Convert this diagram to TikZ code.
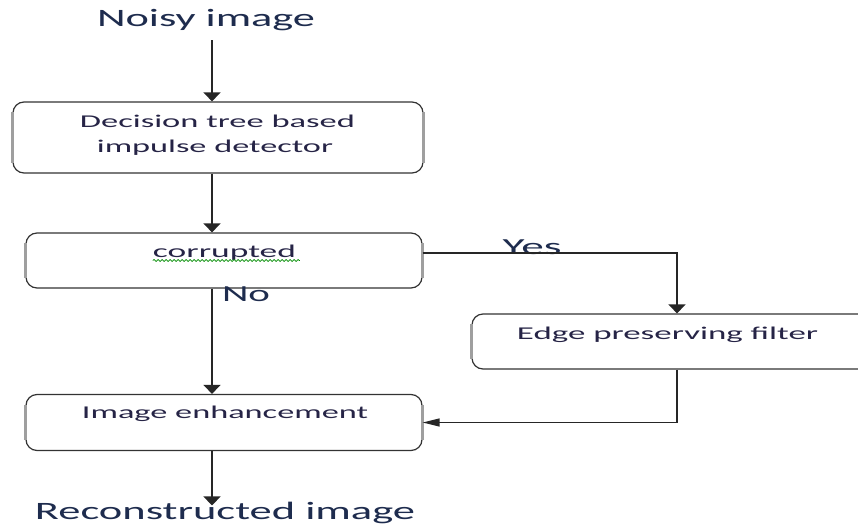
\documentclass[tikz,border=0pt]{standalone}
\usepackage{fontspec}
\setmainfont{Carlito}
\usepackage{graphicx}
\usetikzlibrary{arrows.meta,decorations.pathmorphing}
\definecolor{txtc}{RGB}{38,36,70}
\definecolor{ttlc}{RGB}{30,44,78}
\newcommand\wtext[3]{\resizebox{#1}{\height}{\fontsize{#2}{#2}\selectfont #3}}
\begin{document}
\begin{tikzpicture}[x=1pt,y=-1pt,
  box/.style={draw=black!80,line width=1.2pt,rounded corners=11pt,inner sep=0pt},
  side/.style={draw=gray!75,line width=2.6pt},
  lbl/.style={anchor=base,inner xsep=0pt,inner ysep=0pt,text=txtc},
  ttl/.style={anchor=base,inner xsep=0pt,inner ysep=0pt,text=ttlc},
  conn/.style={draw=black!85,line width=1.3pt},
  varr/.style={conn,-{Triangle[width=17pt,length=9pt]}},
  harr/.style={conn,-{Triangle[width=8pt,length=17pt]}}]
\clip (0,0) rectangle (858,524);
\fill[white] (0,0) rectangle (858,524);
\coordinate (vx) at (212,0);
\coordinate (hx) at (677,0);
\coordinate (yy) at (0,253);
% boxes
\node[box,minimum width=410pt,minimum height=71pt] (b1) at (218,137.5) {};
\node[box,minimum width=396pt,minimum height=55pt] (b2) at (224,260.5) {};
\node[box,minimum width=410pt,minimum height=55pt] (b3) at (677,341.5) {};
\node[box,minimum width=396pt,minimum height=56pt] (b4) at (224,422.5) {};
\foreach \b in {b1,b2,b3,b4}{
  \draw[side] ([yshift=-11pt]\b.north west) -- ([yshift=11pt]\b.south west);
  \draw[side] ([yshift=-11pt]\b.north east) -- ([yshift=11pt]\b.south east);
}
% texts
\node[ttl,inner ysep=9pt] (in) at (206,27) {\wtext{218pt}{25}{Noisy image}};
\node[lbl] (t1a) at (217.5,128) {\wtext{275pt}{18}{Decision tree based}};
\node[lbl] (t1b) at (215,152) {\wtext{236pt}{18}{impulse detector}};
\node[lbl] (t2) at (224.5,257) {\wtext{143pt}{18}{corrupted}};
\node[lbl] (t3) at (667.5,339) {\wtext{301pt}{18}{Edge preserving filter}};
\node[lbl] (t4) at (225,418) {\wtext{286pt}{18}{Image enhancement}};
\node[ttl] (out) at (225,519) {\wtext{380pt}{25}{Reconstructed image}};
\node[ttl] (yes) at (532,254) {\wtext{59pt}{23}{Yes}};
\node[ttl] (no) at (246,301) {\wtext{48pt}{23}{No}};
% spelling squiggle
\draw[green!55!black,line width=0.7pt,decorate,decoration={snake,amplitude=1pt,segment length=4pt}]
  (t2.base west) ++(0,3.5) -- ++(147,0);
% connectors
\draw[varr] (in.south -| vx) -- (b1.north -| vx);
\draw[varr] (b1.south -| vx) -- (b2.north -| vx);
\draw[varr] (b2.south -| vx) -- (b4.north -| vx);
\draw[varr] (b2.east |- yy) -| (b3.north -| hx);
\draw[harr] (b3.south -| hx) |- (b4.east);
\draw[varr,shorten >=-4pt] (b4.south -| vx) -- (out.north -| vx);
\end{tikzpicture}
\end{document}
